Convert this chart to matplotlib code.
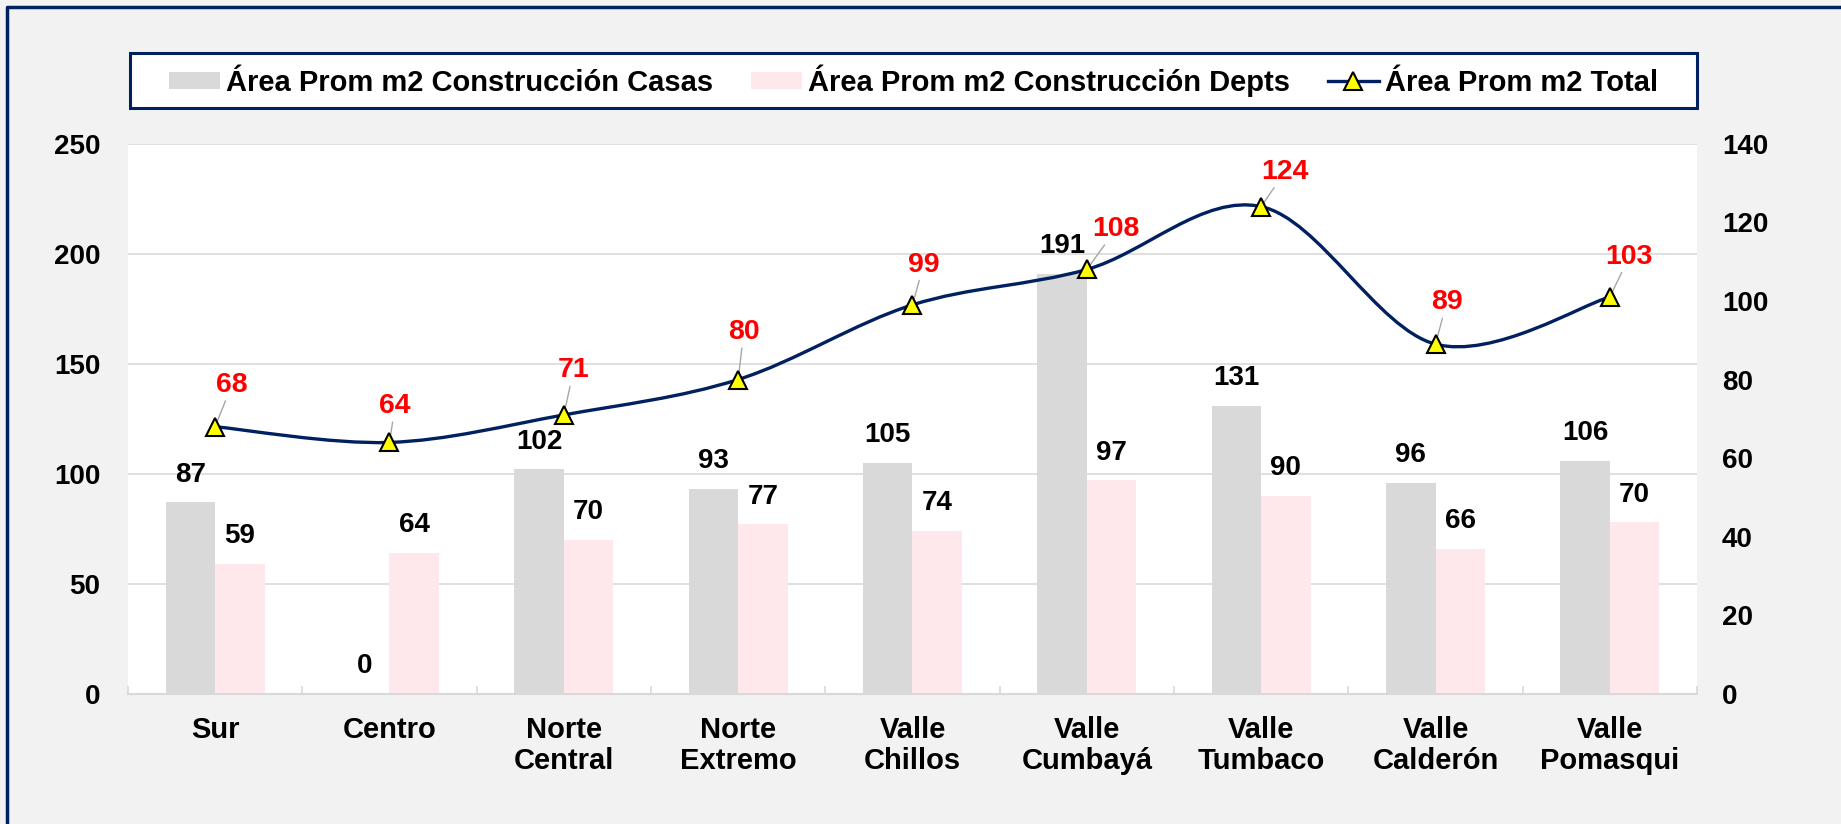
import numpy as np
import matplotlib
matplotlib.use('Agg')
import matplotlib.pyplot as plt
from matplotlib.path import Path
from matplotlib.patches import PathPatch, Rectangle
from matplotlib.lines import Line2D

plt.rcParams['font.family'] = ['Liberation Sans', 'DejaVu Sans']
plt.rcParams['font.weight'] = 'bold'

# datos
zonas = ['Sur', 'Centro', 'Norte\nCentral', 'Norte\nExtremo', 'Valle\nChillos',
         'Valle\nCumbayá', 'Valle\nTumbaco', 'Valle\nCalderón', 'Valle\nPomasqui']
casas = [87, 0, 102, 93, 105, 191, 131, 96, 106]
depts = [59, 64, 70, 77, 74, 97, 90, 66, 78]
total = [68, 64, 71, 80, 99, 108, 124, 89, 101]
etiq_casas = ['87', '0', '102', '93', '105', '191', '131', '96', '106']
etiq_depts = ['59', '64', '70', '77', '74', '97', '90', '66', '70']
etiq_total = ['68', '64', '71', '80', '99', '108', '124', '89', '103']
nombres = ['Área Prom m2 Construcción Casas', 'Área Prom m2 Construcción Depts',
           'Área Prom m2 Total']

# desplazamiento (pt) de las etiquetas rojas respecto al marcador
desp_total = [(12, 30), (4, 26), (7, 32), (4, 34), (8, 29),
              (21, 29), (17, 25), (8, 30), (14, 29)]

gris = '#D9D9D9'
rosa = '#FFE8EC'
azul = '#002060'


def curva_suave(xs, ys):
    # linea suavizada tipo Excel (bezier por tramos)
    pts = np.column_stack([xs, ys]).astype(float)
    n = len(pts)
    verts = [pts[0]]
    codes = [Path.MOVETO]
    for i in range(n - 1):
        p0 = pts[max(i - 1, 0)]
        p1 = pts[i]
        p2 = pts[i + 1]
        p3 = pts[min(i + 2, n - 1)]
        verts += [p1 + (p2 - p0) / 6, p2 - (p3 - p1) / 6, p2]
        codes += [Path.CURVE4] * 3
    return Path(verts, codes)


fig = plt.figure(figsize=(18.41, 8.24), dpi=100, facecolor='#F2F2F2')
ax = fig.add_axes([0.0695, 0.1578, 0.8523, 0.6678])
ax.set_facecolor('white')

x = np.arange(len(zonas))
w = 0.284
b1 = ax.bar(x - w / 2, casas, w, color=gris, zorder=2)
b2 = ax.bar(x + w / 2, depts, w, color=rosa, zorder=2)

ax.set_xlim(-0.5, len(zonas) - 0.5)
ax.set_ylim(0, 250)
ax.set_yticks(range(0, 251, 50))
ax.grid(axis='y', color=gris, lw=1.2)
ax.set_axisbelow(True)
for s in ['top', 'left', 'right']:
    ax.spines[s].set_visible(False)
ax.spines['bottom'].set_color(gris)
ax.spines['bottom'].set_linewidth(1.5)
ax.tick_params(axis='y', length=0, pad=20, labelsize=20)
ax.set_xticks(x)
ax.set_xticklabels(zonas, fontsize=21, linespacing=1.15)
ax.tick_params(axis='x', length=0, pad=16)
ax.set_xticks(np.arange(-0.5, len(zonas), 1), minor=True)
ax.tick_params(axis='x', which='minor', direction='in', length=6, color=gris, width=1.2)

for i in range(len(zonas)):
    ax.annotate(etiq_casas[i], (x[i] - w / 2, casas[i]), xytext=(0, 20),
                textcoords='offset points', ha='center', va='center', fontsize=20)
    ax.annotate(etiq_depts[i], (x[i] + w / 2, depts[i]), xytext=(0, 20),
                textcoords='offset points', ha='center', va='center', fontsize=20)

ax2 = ax.twinx()
ax2.set_ylim(0, 140)
ax2.set_yticks(range(0, 141, 20))
for s in ax2.spines.values():
    s.set_visible(False)
ax2.tick_params(axis='y', length=0, pad=18, labelsize=20)

ax2.add_patch(PathPatch(curva_suave(x, total), fill=False, edgecolor=azul, lw=2.4, zorder=3))
ax2.plot(x, total, ls='none', marker='^', ms=12.5, mfc='#FFFF00', mec='black', mew=1.5, zorder=4)
for i in range(len(zonas)):
    ax2.annotate(etiq_total[i], (x[i], total[i]), xytext=desp_total[i],
                 textcoords='offset points', ha='center', va='center', fontsize=20.5,
                 color='#FF0000', zorder=3,
                 arrowprops=dict(arrowstyle='-', color='#A6A6A6', lw=1, shrinkA=0, shrinkB=0))

# cuadro de leyenda
lx0, ly0 = 130 / 1841, (824 - 108) / 824
lw_, lh = (1697 - 130) / 1841, 55 / 824
fig.add_artist(Rectangle((lx0, ly0), lw_, lh, transform=fig.transFigure,
                         facecolor='white', edgecolor=azul, lw=2.2, zorder=1))
linea = Line2D([], [], color=azul, lw=2.4, marker='^', ms=12.5, mfc='#FFFF00', mec='black', mew=1.5)
fig.legend([b1, b2, linea], nombres, loc='center', bbox_to_anchor=(lx0 + lw_ / 2, ly0 + lh / 2),
           ncol=3, frameon=False, fontsize=21, handlelength=1.75, handleheight=0.55,
           handletextpad=0.2, columnspacing=1.3, borderpad=0)

# borde exterior (solo izquierda y arriba quedan dentro de la imagen)
bx, by = 7 / 1841, 1 - 7 / 824
fig.add_artist(Line2D([bx, bx, 1.0], [0.0, by, by], transform=fig.transFigure,
                      color=azul, lw=2.5))

fig.savefig('out.png', dpi=100, facecolor=fig.get_facecolor())
